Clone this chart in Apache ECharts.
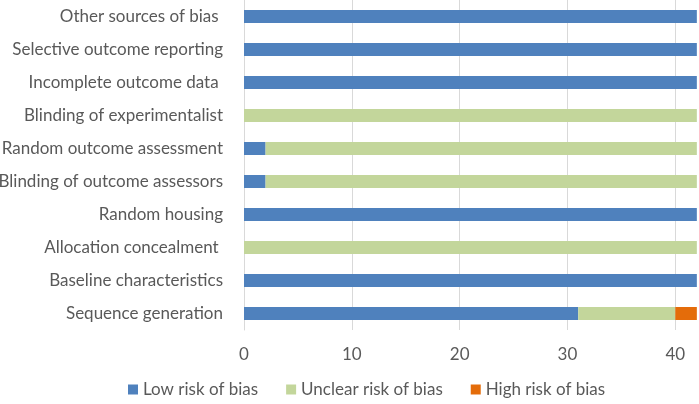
<!DOCTYPE html>
<html><head><meta charset="utf-8">
<script src="https://cdn.jsdelivr.net/npm/echarts@6/dist/echarts.min.js"></script>
<style>html,body{margin:0;padding:0;background:#fff}#c{width:699px;height:404px}</style>
</head><body><div id="c"></div>
<script>
const categories = ["Sequence generation","Baseline characteristics","Allocation concealment ","Random housing","Blinding of outcome assessors","Random outcome assessment","Blinding of experimentalist","Incomplete outcome data ","Selective outcome reporting","Other sources of bias "];
const lowRisk = [31,42,0,42,2,2,0,42,42,42];
const unclearRisk = [9,0,42,0,40,40,42,0,0,0];
const highRisk = [2,0,0,0,0,0,0,0,0,0];
const seriesNames = ["Low risk of bias","Unclear risk of bias","High risk of bias"];
const colors = ["#4f81bd","#c3d69b","#e46c0a"];
const font = "Lato, 'Open Sans', sans-serif";
const chart = echarts.init(document.getElementById('c'));
const mk = (name, data, color) => ({name, type:'bar', stack:'t', data, barWidth:13, itemStyle:{color}, silent:true});
chart.setOption({
  animation:false,
  textStyle:{fontFamily:font},
  grid:{left:244,right:0,top:0,bottom:74,containLabel:false,outerBoundsMode:'none'},
  legend:{bottom:1,left:123,itemWidth:10,itemHeight:10,itemGap:28,icon:'rect',
    textStyle:{color:'#595959',fontSize:17,fontFamily:font},data:seriesNames},
  xAxis:{type:'value',min:0,max:42.2,interval:10,
    axisLine:{show:false},axisTick:{show:false},
    splitLine:{lineStyle:{color:'#d9d9d9',width:1}},
    axisLabel:{color:'#595959',fontSize:17,margin:16,showMaxLabel:false,fontFamily:font}},
  yAxis:{type:'category',data:categories,
    axisLine:{show:true,lineStyle:{color:'#d9d9d9',width:1}},axisTick:{show:false},
    axisLabel:{color:'#595959',fontSize:17,margin:21,fontFamily:font}},
  series:[mk(seriesNames[0],lowRisk,colors[0]),mk(seriesNames[1],unclearRisk,colors[1]),mk(seriesNames[2],highRisk,colors[2])]
});
</script></body></html>
